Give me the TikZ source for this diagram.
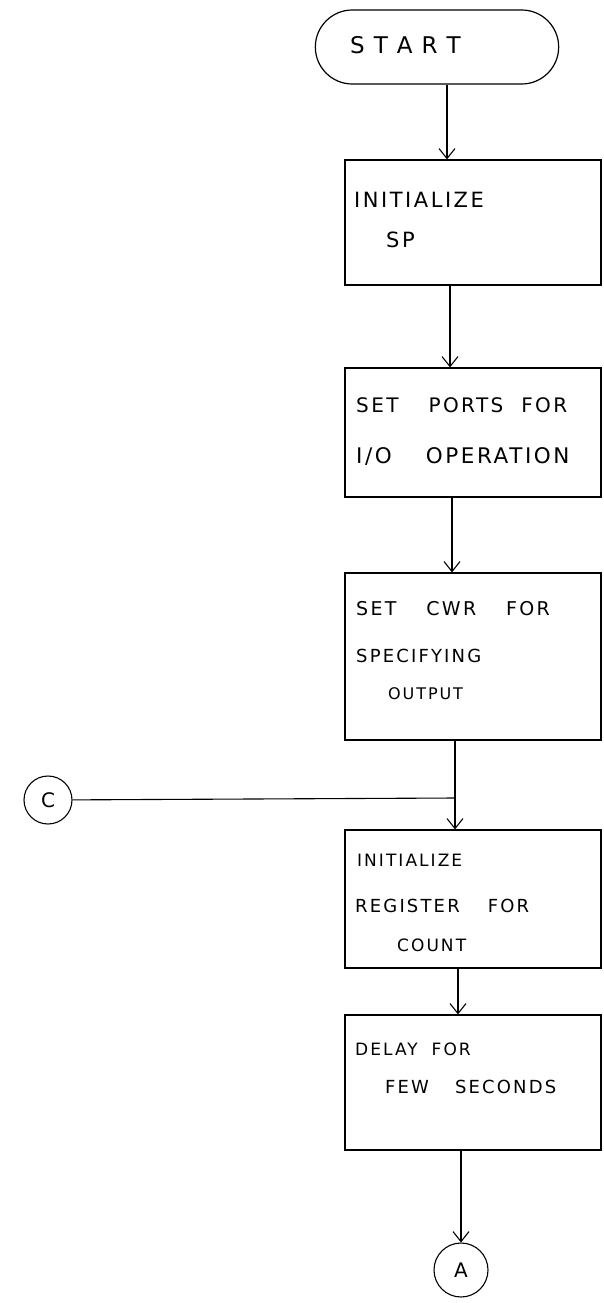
\documentclass[tikz,border=0pt]{standalone}
\usepackage{fontspec}
\setsansfont{DejaVu Sans}[LetterSpace=12]
\usetikzlibrary{arrows.meta,shapes.misc}

\begin{document}
\begin{tikzpicture}[x=1pt,y=-1pt,
        every node/.style={font=\sffamily\fontsize{20}{24}\selectfont},
        stepbox/.style={draw, rectangle, line width=1.2pt, minimum width=256pt},
        termbox/.style={draw, rounded rectangle, line width=1.2pt,
            minimum width=250pt, minimum height=74pt},
        connector/.style={draw, circle, line width=1.1pt, inner sep=0pt},
        steptext/.style={anchor=base west, inner sep=0pt},
        arrow/.style={-{Straight Barb[length=10pt,width=16pt]}, line width=1.1pt}]
      \useasboundingbox (0,0) rectangle (603,1303);

      %%% Terminal and process boxes
      \node[termbox] (start) at (437,47) {};
      \node[stepbox, minimum height=125pt] (initsp) at (473,222.5) {};
      \node[stepbox, minimum height=129pt] (ports) at (473,432.5) {};
      \node[stepbox, minimum height=167pt] (cwr) at (473,656.5) {};
      \node[stepbox, minimum height=138pt] (count) at (473,899) {};
      \node[stepbox, minimum height=135pt] (delay) at (473,1082.5) {};

      % Off-page connectors
      \node[connector, minimum size=48pt] (conC) at (48,800) {C};
      \node[connector, minimum size=54pt] (conA) at (461,1270) {A};

      %%% Box texts
      \node[steptext, font=\sffamily\fontsize{23}{26}\selectfont] (startT) at (350,54) {S\hspace{9pt}T\hspace{9pt}A\hspace{9pt}R\hspace{9pt}T};
      \node[steptext, font=\sffamily\fontsize{21}{24}\selectfont] (initspT1) at (354,207) {INITIALIZE};
      \node[steptext, font=\sffamily\fontsize{21}{24}\selectfont] (initspT2) at (386,247) {SP};
      \node[steptext] (portsT1) at (356,412) {SET\hspace{30pt}PORTS\hspace{18pt}FOR};
      \node[steptext, font=\sffamily\fontsize{21.5}{24}\selectfont] (portsT2) at (356,463) {I/O\hspace{34pt}OPERATION};
      \node[steptext, font=\sffamily\fontsize{19}{22}\selectfont] (cwrT1) at (356,615) {SET\hspace{30pt}CWR\hspace{30pt}FOR};
      \node[steptext, font=\sffamily\fontsize{18}{22}\selectfont] (cwrT2) at (356,662) {SPECIFYING};
      \node[steptext, font=\sffamily\fontsize{16}{20}\selectfont] (cwrT3) at (388,699) {OUTPUT};
      \node[steptext, font=\sffamily\fontsize{17}{20}\selectfont] (countT1) at (357,866) {INITIALIZE};
      \node[steptext, font=\sffamily\fontsize{18}{20}\selectfont] (countT2) at (355,912) {REGISTER\hspace{28pt}FOR};
      \node[steptext, font=\sffamily\fontsize{17}{20}\selectfont] (countT3) at (397,951) {COUNT};
      \node[steptext, font=\sffamily\fontsize{17}{20}\selectfont] (delayT1) at (355,1055) {DELAY\hspace{14pt}FOR};
      \node[steptext, font=\sffamily\fontsize{18}{20}\selectfont] (delayT2) at (385,1093) {FEW\hspace{26pt}SECONDS};

      %%% Flow lines
      \coordinate (join) at (455,798);
      \draw[arrow] ([xshift=10]start.south) -- ([xshift=-26]initsp.north);
      \draw[arrow] ([xshift=-23]initsp.south) -- ([xshift=-23]ports.north);
      \draw[arrow] ([xshift=-21]ports.south) -- ([xshift=-21]cwr.north);
      \draw[arrow] ([xshift=-18]cwr.south) -- ([xshift=-18]count.north);
      \draw[line width=1.1pt] (conC) -- (join);
      \draw[arrow] ([xshift=-15]count.south) -- ([xshift=-15]delay.north);
      \draw[arrow] ([xshift=-12]delay.south) -- (conA);
    \end{tikzpicture}
\end{document}
